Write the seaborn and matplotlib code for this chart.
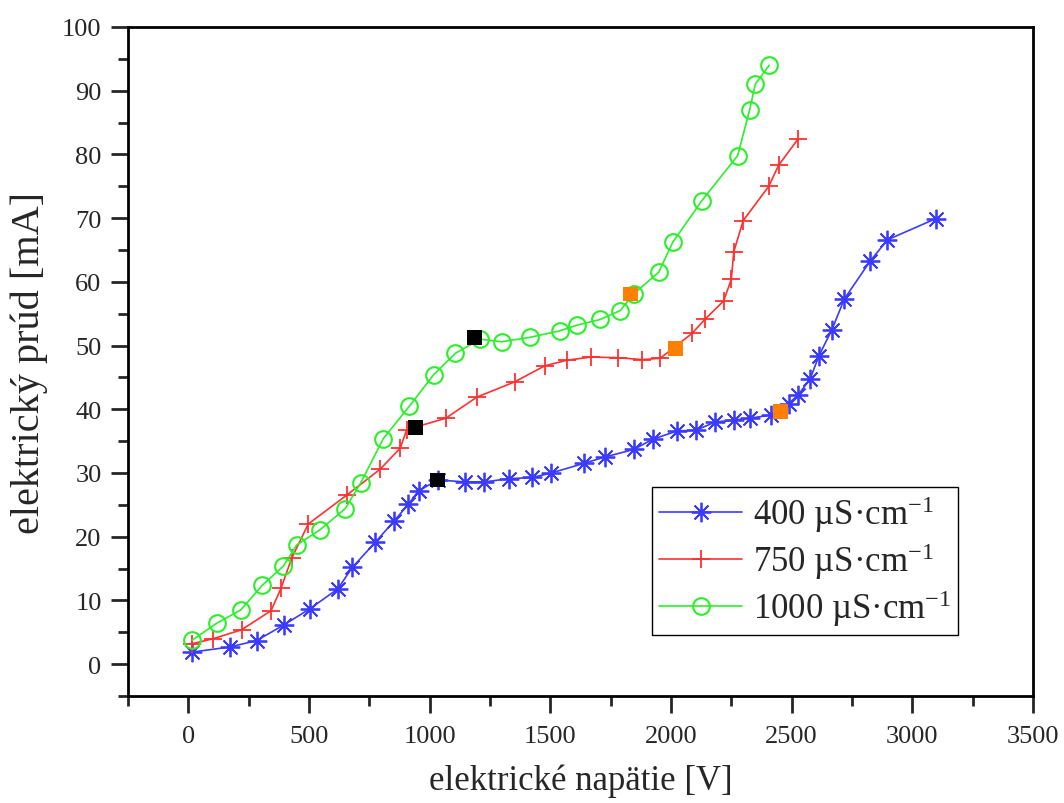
import matplotlib
matplotlib.use("Agg")
import matplotlib.pyplot as plt
import seaborn as sns
import numpy as np
from matplotlib.ticker import MultipleLocator

# ---- data ----
x_400 = [17, 173, 283, 398, 504, 619, 680, 774, 851, 912, 954, 1034, 1147, 1227, 1327, 1426, 1504,
         1638, 1725, 1846, 1924, 2026, 2103, 2183, 2260, 2328, 2413, 2487, 2526, 2577, 2613, 2667,
         2718, 2826, 2897, 3096]
y_400 = [1.9, 2.7, 3.7, 6.2, 8.7, 11.8, 15.2, 19.1, 22.4, 25.1, 27.2, 28.9, 28.6, 28.6, 29.1, 29.3, 30.0,
         31.5, 32.5, 33.7, 35.3, 36.6, 36.7, 38.0, 38.3, 38.6, 39.1, 40.9, 42.2, 44.8, 48.4, 52.5,
         57.3, 63.3, 66.6, 69.9]

x_750 = [15, 104, 221, 343, 384, 428, 497, 659, 795, 878, 905, 1067, 1195, 1352, 1476, 1568, 1669,
         1780, 1880, 1955, 2087, 2140, 2218, 2250, 2260, 2299, 2405, 2446, 2526]
y_750 = [3.2, 4.0, 5.4, 8.4, 11.9, 16.6, 22.0, 26.6, 30.6, 33.9, 36.8, 38.6, 41.9, 44.3, 46.8, 47.7, 48.2,
         48.1, 47.8, 48.0, 51.9, 54.1, 57.0, 60.4, 64.7, 69.6, 75.0, 78.3, 82.4]

x_1000 = [17, 117, 217, 307, 394, 449, 546, 650, 715, 808, 916, 1016, 1107, 1209, 1299, 1416, 1538,
          1610, 1707, 1790, 1845, 1949, 2007, 2127, 2276, 2326, 2349, 2407]
y_1000 = [3.8, 6.4, 8.5, 12.4, 15.4, 18.7, 21.1, 24.4, 28.5, 35.4, 40.5, 45.4, 48.8, 51.0, 50.6, 51.3, 52.3,
          53.2, 54.1, 55.5, 58.1, 61.5, 66.2, 72.7, 79.8, 87.0, 91.0, 94.0]

black_x = [1034, 940, 1186]
black_y = [28.9, 37.2, 51.2]
orange_x = [2453, 2017, 1831]
orange_y = [39.7, 49.5, 58.1]

labels = ["400 µS·cm$^{-1}$", "750 µS·cm$^{-1}$", "1000 µS·cm$^{-1}$"]
x_ticks = [0, 500, 1000, 1500, 2000, 2500, 3000, 3500]
y_ticks = [0, 10, 20, 30, 40, 50, 60, 70, 80, 90, 100]

# ---- style ----
sns.set_style("ticks")
plt.rcParams["font.family"] = ["Liberation Serif", "DejaVu Serif"]
plt.rcParams["mathtext.fontset"] = "custom"
plt.rcParams["mathtext.rm"] = "Liberation Serif"
plt.rcParams["mathtext.it"] = "Liberation Serif:italic"
plt.rcParams["mathtext.default"] = "regular"

c_blue = "#3b3bff"
c_red = "#ff3030"
c_green = "#2af02a"

fig = plt.figure(figsize=(10.64, 8.04), dpi=100)
ax = fig.add_axes([128 / 1064, 1 - 697 / 804, (1033 - 128) / 1064, (697 - 28) / 804])

star = (8, 2, 0)
sns.lineplot(x=x_400, y=y_400, sort=False, ax=ax, color=c_blue, lw=1.2,
             marker=star, markersize=14, markeredgewidth=1.3, markeredgecolor=c_blue,
             label=labels[0], estimator=None)
sns.lineplot(x=x_400, y=y_400, sort=False, ax=ax, color=c_blue, lw=0,
             marker="o", markersize=3, markeredgewidth=0, estimator=None, legend=False)
sns.lineplot(x=x_750, y=y_750, sort=False, ax=ax, color=c_red, lw=1.2,
             marker="+", markersize=13, markeredgewidth=1.3, markeredgecolor=c_red,
             label=labels[1], estimator=None)
sns.lineplot(x=x_1000, y=y_1000, sort=False, ax=ax, color=c_green, lw=1.2,
             marker="o", markersize=12, markerfacecolor="none", markeredgewidth=1.5,
             markeredgecolor=c_green, label=labels[2], estimator=None)
sns.scatterplot(x=black_x, y=black_y, ax=ax, marker="s", s=115, color="black",
                edgecolor="none", zorder=5, legend=False)
sns.scatterplot(x=orange_x, y=orange_y, ax=ax, marker="s", s=115, color="#ff8000",
                edgecolor="none", zorder=5, legend=False)

ax.set_xlim(-250, 3500)
ax.set_ylim(-5, 100)
ax.set_xticks(x_ticks)
ax.set_yticks(y_ticks)
ax.xaxis.set_minor_locator(MultipleLocator(250))
ax.yaxis.set_minor_locator(MultipleLocator(5))
ax.tick_params(which="major", direction="out", length=12, width=2, labelsize=19,
               top=False, right=False)
ax.tick_params(axis="x", which="major", pad=9)
ax.tick_params(axis="y", which="major", pad=7)
ax.tick_params(which="minor", direction="out", length=7, width=2, top=False, right=False)
for s in ax.spines.values():
    s.set_visible(True)
    s.set_linewidth(2)
    s.set_color("black")

ax.set_xlabel("elektrické napätie [V]", fontsize=25, labelpad=12)
ax.set_ylabel("elektrický prúd [mA]", fontsize=29, labelpad=10)

leg = ax.legend(loc="lower left", bbox_to_anchor=(0.579, 0.091), fontsize=25,
                frameon=True, fancybox=False, edgecolor="black", framealpha=1,
                handlelength=2.4, borderpad=0.2, labelspacing=0.18, handletextpad=0.3,
                borderaxespad=0)
leg.get_frame().set_linewidth(1)

fig.savefig("out.png", dpi=100)
